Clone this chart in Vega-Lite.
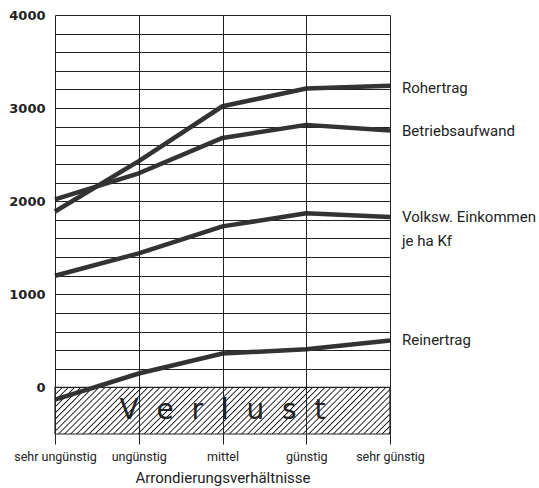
{
  "$schema": "https://vega.github.io/schema/vega-lite/v6.json",
  "width": 335,
  "height": 419,
  "autosize": "none",
  "padding": {"left": 55, "top": 15, "right": 149, "bottom": 54},
  "background": "white",
  "config": {"view": {"stroke": null}},
  "encoding": {
    "x": {
      "field": "cat", "type": "ordinal",
      "scale": {"type": "point", "padding": 0, "domain": ["sehr ungünstig", "ungünstig", "mittel", "günstig", "sehr günstig"]},
      "axis": {
        "title": "Arrondierungsverhältnisse", "titleFont": "Roboto", "titleFontSize": 15, "titleFontWeight": "normal", "titleColor": "#222", "titlePadding": 8,
        "labelAngle": 0, "labelFont": "Roboto", "labelFontSize": 12.5, "labelColor": "#222", "labelPadding": 6, "labelOverlap": false, "labelFlush": false,
        "ticks": true, "tickSize": 10, "tickColor": "#222", "tickWidth": 1,
        "domain": false, "grid": true, "gridColor": "#222", "gridWidth": 1, "gridOpacity": 1
      }
    },
    "y": {
      "field": "value", "type": "quantitative",
      "scale": {"domain": [-500, 4000], "nice": false, "zero": false},
      "axis": {
        "title": null, "values": [-400, -200, 0, 200, 400, 600, 800, 1000, 1200, 1400, 1600, 1800, 2000, 2200, 2400, 2600, 2800, 3000, 3200, 3400, 3600, 3800, 4000],
        "format": "d", "labelExpr": "datum.value >= 0 && datum.value % 1000 === 0 ? datum.label : ''",
        "labelFont": "DejaVu Sans", "labelFontWeight": "bold", "labelFontSize": 13, "labelColor": "#222", "labelPadding": 10,
        "ticks": false, "domain": false, "grid": true, "gridColor": "#222", "gridWidth": 1, "gridOpacity": 1
      }
    }
  },
  "layer": [
    {
      "data": {"values": [{"cat": "sehr ungünstig", "cat2": "sehr günstig", "value": 0, "value2": -500}]},
      "mark": {"type": "rect", "stroke": "#222", "strokeWidth": 1.2,
        "fill": {"gradient": "linear", "x1": 0, "y1": 0, "x2": 1.1175, "y2": 0.1554, "stops": [
{"offset":0,"color":"#fff"},{"offset":0.003,"color":"#111"},{"offset":0.0065,"color":"#fff"},
{"offset":0.016,"color":"#fff"},{"offset":0.019,"color":"#111"},{"offset":0.0225,"color":"#fff"},
{"offset":0.032,"color":"#fff"},{"offset":0.035,"color":"#111"},{"offset":0.0385,"color":"#fff"},
{"offset":0.048,"color":"#fff"},{"offset":0.051,"color":"#111"},{"offset":0.0545,"color":"#fff"},
{"offset":0.064,"color":"#fff"},{"offset":0.067,"color":"#111"},{"offset":0.0705,"color":"#fff"},
{"offset":0.080,"color":"#fff"},{"offset":0.083,"color":"#111"},{"offset":0.0865,"color":"#fff"},
{"offset":0.096,"color":"#fff"},{"offset":0.099,"color":"#111"},{"offset":0.1025,"color":"#fff"},
{"offset":0.112,"color":"#fff"},{"offset":0.115,"color":"#111"},{"offset":0.1185,"color":"#fff"},
{"offset":0.128,"color":"#fff"},{"offset":0.131,"color":"#111"},{"offset":0.1345,"color":"#fff"},
{"offset":0.144,"color":"#fff"},{"offset":0.147,"color":"#111"},{"offset":0.1505,"color":"#fff"},
{"offset":0.160,"color":"#fff"},{"offset":0.163,"color":"#111"},{"offset":0.1665,"color":"#fff"},
{"offset":0.176,"color":"#fff"},{"offset":0.179,"color":"#111"},{"offset":0.1825,"color":"#fff"},
{"offset":0.192,"color":"#fff"},{"offset":0.195,"color":"#111"},{"offset":0.1985,"color":"#fff"},
{"offset":0.208,"color":"#fff"},{"offset":0.211,"color":"#111"},{"offset":0.2145,"color":"#fff"},
{"offset":0.224,"color":"#fff"},{"offset":0.227,"color":"#111"},{"offset":0.2305,"color":"#fff"},
{"offset":0.240,"color":"#fff"},{"offset":0.243,"color":"#111"},{"offset":0.2465,"color":"#fff"},
{"offset":0.256,"color":"#fff"},{"offset":0.259,"color":"#111"},{"offset":0.2625,"color":"#fff"},
{"offset":0.272,"color":"#fff"},{"offset":0.275,"color":"#111"},{"offset":0.2785,"color":"#fff"},
{"offset":0.288,"color":"#fff"},{"offset":0.291,"color":"#111"},{"offset":0.2945,"color":"#fff"},
{"offset":0.304,"color":"#fff"},{"offset":0.307,"color":"#111"},{"offset":0.3105,"color":"#fff"},
{"offset":0.320,"color":"#fff"},{"offset":0.323,"color":"#111"},{"offset":0.3265,"color":"#fff"},
{"offset":0.336,"color":"#fff"},{"offset":0.339,"color":"#111"},{"offset":0.3425,"color":"#fff"},
{"offset":0.352,"color":"#fff"},{"offset":0.355,"color":"#111"},{"offset":0.3585,"color":"#fff"},
{"offset":0.368,"color":"#fff"},{"offset":0.371,"color":"#111"},{"offset":0.3745,"color":"#fff"},
{"offset":0.384,"color":"#fff"},{"offset":0.387,"color":"#111"},{"offset":0.3905,"color":"#fff"},
{"offset":0.400,"color":"#fff"},{"offset":0.403,"color":"#111"},{"offset":0.4065,"color":"#fff"},
{"offset":0.416,"color":"#fff"},{"offset":0.419,"color":"#111"},{"offset":0.4225,"color":"#fff"},
{"offset":0.432,"color":"#fff"},{"offset":0.435,"color":"#111"},{"offset":0.4385,"color":"#fff"},
{"offset":0.448,"color":"#fff"},{"offset":0.451,"color":"#111"},{"offset":0.4545,"color":"#fff"},
{"offset":0.464,"color":"#fff"},{"offset":0.467,"color":"#111"},{"offset":0.4705,"color":"#fff"},
{"offset":0.480,"color":"#fff"},{"offset":0.483,"color":"#111"},{"offset":0.4865,"color":"#fff"},
{"offset":0.496,"color":"#fff"},{"offset":0.499,"color":"#111"},{"offset":0.5025,"color":"#fff"},
{"offset":0.512,"color":"#fff"},{"offset":0.515,"color":"#111"},{"offset":0.5185,"color":"#fff"},
{"offset":0.528,"color":"#fff"},{"offset":0.531,"color":"#111"},{"offset":0.5345,"color":"#fff"},
{"offset":0.544,"color":"#fff"},{"offset":0.547,"color":"#111"},{"offset":0.5505,"color":"#fff"},
{"offset":0.560,"color":"#fff"},{"offset":0.563,"color":"#111"},{"offset":0.5665,"color":"#fff"},
{"offset":0.576,"color":"#fff"},{"offset":0.579,"color":"#111"},{"offset":0.5825,"color":"#fff"},
{"offset":0.592,"color":"#fff"},{"offset":0.595,"color":"#111"},{"offset":0.5985,"color":"#fff"},
{"offset":0.608,"color":"#fff"},{"offset":0.611,"color":"#111"},{"offset":0.6145,"color":"#fff"},
{"offset":0.624,"color":"#fff"},{"offset":0.627,"color":"#111"},{"offset":0.6305,"color":"#fff"},
{"offset":0.640,"color":"#fff"},{"offset":0.643,"color":"#111"},{"offset":0.6465,"color":"#fff"},
{"offset":0.656,"color":"#fff"},{"offset":0.659,"color":"#111"},{"offset":0.6625,"color":"#fff"},
{"offset":0.672,"color":"#fff"},{"offset":0.675,"color":"#111"},{"offset":0.6785,"color":"#fff"},
{"offset":0.688,"color":"#fff"},{"offset":0.691,"color":"#111"},{"offset":0.6945,"color":"#fff"},
{"offset":0.704,"color":"#fff"},{"offset":0.707,"color":"#111"},{"offset":0.7105,"color":"#fff"},
{"offset":0.720,"color":"#fff"},{"offset":0.723,"color":"#111"},{"offset":0.7265,"color":"#fff"},
{"offset":0.736,"color":"#fff"},{"offset":0.739,"color":"#111"},{"offset":0.7425,"color":"#fff"},
{"offset":0.752,"color":"#fff"},{"offset":0.755,"color":"#111"},{"offset":0.7585,"color":"#fff"},
{"offset":0.768,"color":"#fff"},{"offset":0.771,"color":"#111"},{"offset":0.7745,"color":"#fff"},
{"offset":0.784,"color":"#fff"},{"offset":0.787,"color":"#111"},{"offset":0.7905,"color":"#fff"},
{"offset":0.800,"color":"#fff"},{"offset":0.803,"color":"#111"},{"offset":0.8065,"color":"#fff"},
{"offset":0.816,"color":"#fff"},{"offset":0.819,"color":"#111"},{"offset":0.8225,"color":"#fff"},
{"offset":0.832,"color":"#fff"},{"offset":0.835,"color":"#111"},{"offset":0.8385,"color":"#fff"},
{"offset":0.848,"color":"#fff"},{"offset":0.851,"color":"#111"},{"offset":0.8545,"color":"#fff"},
{"offset":0.864,"color":"#fff"},{"offset":0.867,"color":"#111"},{"offset":0.8705,"color":"#fff"},
{"offset":0.880,"color":"#fff"},{"offset":0.883,"color":"#111"},{"offset":0.8865,"color":"#fff"},
{"offset":0.896,"color":"#fff"},{"offset":0.899,"color":"#111"},{"offset":0.9025,"color":"#fff"},
{"offset":0.912,"color":"#fff"},{"offset":0.915,"color":"#111"},{"offset":0.9185,"color":"#fff"},
{"offset":0.928,"color":"#fff"},{"offset":0.931,"color":"#111"},{"offset":0.9345,"color":"#fff"},
{"offset":0.944,"color":"#fff"},{"offset":0.947,"color":"#111"},{"offset":0.9505,"color":"#fff"},
{"offset":0.960,"color":"#fff"},{"offset":0.963,"color":"#111"},{"offset":0.9665,"color":"#fff"},
{"offset":0.976,"color":"#fff"},{"offset":0.979,"color":"#111"},{"offset":0.9825,"color":"#fff"},
{"offset":0.992,"color":"#fff"},{"offset":0.995,"color":"#111"},{"offset":0.9985,"color":"#fff"},
{"offset":1,"color":"#fff"}
        ]}
      },
      "encoding": {"x2": {"field": "cat2"}, "y2": {"field": "value2"}}
    },
    {
      "data": {"values": [
        {"series": "Rohertrag", "cat": "sehr ungünstig", "value": 1890},
        {"series": "Rohertrag", "cat": "ungünstig", "value": 2430},
        {"series": "Rohertrag", "cat": "mittel", "value": 3020},
        {"series": "Rohertrag", "cat": "günstig", "value": 3210},
        {"series": "Rohertrag", "cat": "sehr günstig", "value": 3240},
        {"series": "Betriebsaufwand", "cat": "sehr ungünstig", "value": 2020},
        {"series": "Betriebsaufwand", "cat": "ungünstig", "value": 2300},
        {"series": "Betriebsaufwand", "cat": "mittel", "value": 2680},
        {"series": "Betriebsaufwand", "cat": "günstig", "value": 2820},
        {"series": "Betriebsaufwand", "cat": "sehr günstig", "value": 2760},
        {"series": "Volksw. Einkommen", "cat": "sehr ungünstig", "value": 1200},
        {"series": "Volksw. Einkommen", "cat": "ungünstig", "value": 1440},
        {"series": "Volksw. Einkommen", "cat": "mittel", "value": 1730},
        {"series": "Volksw. Einkommen", "cat": "günstig", "value": 1870},
        {"series": "Volksw. Einkommen", "cat": "sehr günstig", "value": 1830},
        {"series": "Reinertrag", "cat": "sehr ungünstig", "value": -130},
        {"series": "Reinertrag", "cat": "ungünstig", "value": 150},
        {"series": "Reinertrag", "cat": "mittel", "value": 365},
        {"series": "Reinertrag", "cat": "günstig", "value": 410},
        {"series": "Reinertrag", "cat": "sehr günstig", "value": 505}
      ]},
      "mark": {"type": "line", "color": "#333", "strokeWidth": 4.5, "strokeCap": "butt", "strokeJoin": "round"},
      "encoding": {"detail": {"field": "series", "type": "nominal"}}
    },
    {
      "data": {"values": [
        {"label": "Rohertrag", "cat": "sehr günstig", "value": 3215},
        {"label": "Betriebsaufwand", "cat": "sehr günstig", "value": 2750},
        {"label": "Volksw. Einkommen", "cat": "sehr günstig", "value": 1828},
        {"label": "\u00a0je ha Kf", "cat": "sehr günstig", "value": 1570},
        {"label": "Reinertrag", "cat": "sehr günstig", "value": 505}
      ]},
      "mark": {"type": "text", "align": "left", "baseline": "middle", "dx": 12, "font": "Roboto", "fontSize": 15, "color": "#222"},
      "encoding": {"text": {"field": "label"}}
    },
    {
      "data": {"values": [{"label": "V\u00a0\u00a0e\u00a0\u00a0r\u00a0\u00a0l\u00a0\u00a0u\u00a0\u00a0s\u00a0\u00a0t", "cat": "mittel", "value": -250}]},
      "mark": {"type": "text", "align": "center", "baseline": "middle", "font": "DejaVu Sans", "fontSize": 28, "color": "#222"},
      "encoding": {"text": {"field": "label"}}
    }
  ]
}
